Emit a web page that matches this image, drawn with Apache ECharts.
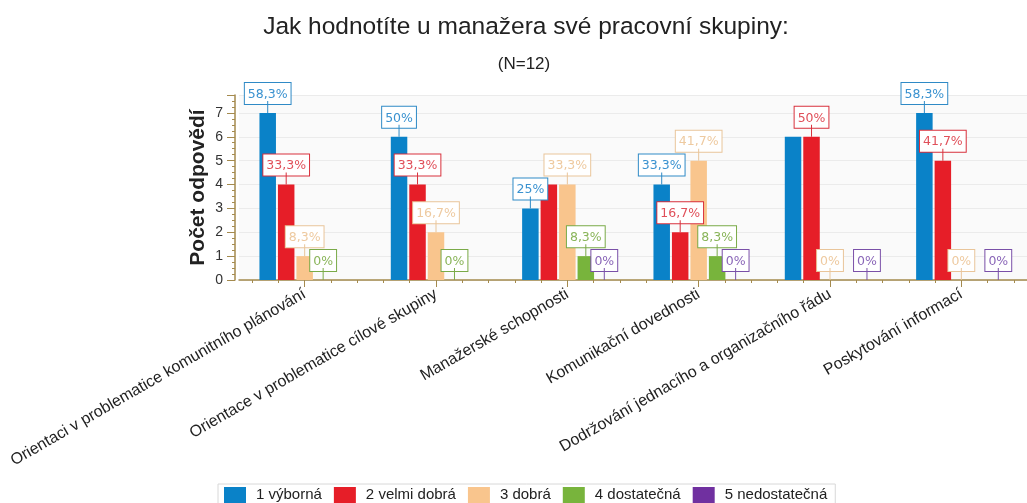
<!DOCTYPE html>
<html>
<head>
<meta charset="utf-8">
<script src="https://cdn.jsdelivr.net/npm/echarts@6/dist/echarts.min.js"></script>
<style>
  html, body { margin: 0; padding: 0; background: #fff; }
  #chart { width: 1027px; height: 503px; }
</style>
</head>
<body>
<div id="chart"></div>
<script>
const respondents = 12
const categories = [
  'Orientaci v problematice komunitního plánování',
  'Orientace v problematice cílové skupiny',
  'Manažerské schopnosti',
  'Komunikační dovednosti',
  'Dodržování jednacího a organizačního řádu',
  'Poskytování informací'
]
const seriesNames = ['1 výborná', '2 velmi dobrá', '3 dobrá', '4 dostatečná', '5 nedostatečná']
const vyborna = [7, 6, 3, 4, 6, 7]
const velmiDobra = [4, 4, 4, 2, 6, 5]
const dobra = [1, 2, 4, 5, 0, 0]
const dostatecna = [0, 0, 1, 1, 0, 0]
const nedostatecna = [0, 0, 0, 0, 0, 0]
const yTicks = [0, 1, 2, 3, 4, 5, 6, 7]
// labels the original chart leaves out: [series, category]
const hiddenLabels = [[4, 0], [4, 1], [1, 2], [0, 4], [3, 4], [3, 5]]

const values = [vyborna, velmiDobra, dobra, dostatecna, nedostatecna]
const barColors = ['#0a82c8', '#e61e28', '#f9c58d', '#78b43c', '#7030a0']
const boxColors = ['#2f8ac6', '#d8303c', '#e9c59a', '#7aaa48', '#7a50a8']
const textColors = ['#3a92d0', '#e0505a', '#eecaa0', '#8ab55a', '#8a66b8']
const axisColor = '#a48a4e'

const pct = v => {
  const p = Math.round(v / respondents * 1000) / 10
  return String(p).replace('.', ',') + '%'
}

const chart = echarts.init(document.getElementById('chart'))

const series = values.map((vals, s) => ({
  name: seriesNames[s],
  type: 'bar',
  xAxisIndex: 0,
  barWidth: 16.5,
  barGap: '12%',
  itemStyle: { color: barColors[s] },
  label: {
    show: true,
    position: 'top',
    distance: 0,
    formatter: p => '{box|' + pct(p.value) + '}\n{line| }',
    rich: {
      box: {
        fontFamily: 'DejaVu Sans',
        fontSize: 12.5,
        color: textColors[s],
        backgroundColor: '#fff',
        borderColor: boxColors[s],
        borderWidth: 1,
        padding: [5, 3, 3, 3],
        lineHeight: 15
      },
      line: { width: 1, height: 12, lineHeight: 12, fontSize: 1, backgroundColor: boxColors[s] }
    }
  },
  data: vals.map((v, c) => {
    const hide = hiddenLabels.some(h => h[0] === s && h[1] === c)
    return hide ? { value: v, label: { show: false } } : v
  }),
  z: 2
}))

chart.setOption({
  animation: false,
  textStyle: { fontFamily: 'Liberation Sans, Arial, sans-serif' },
  title: [
    {
      text: 'Jak hodnotíte u manažera své pracovní skupiny:',
      left: 521, top: 10, textAlign: 'center',
      textStyle: { fontSize: 24.5, fontWeight: 'normal', color: '#222' }
    },
    {
      text: '(N=12)',
      left: 519, top: 51, textAlign: 'center',
      textStyle: { fontSize: 17, fontWeight: 'normal', color: '#222' }
    }
  ],
  legend: {
    data: seriesNames,
    left: 218, top: 484,
    itemWidth: 22, itemHeight: 16, itemGap: 12,
    padding: [3, 8, 6, 6],
    borderColor: '#d8d8d8', borderWidth: 1,
    textStyle: { fontSize: 15, color: '#222', padding: [0, 0, 0, 5] },
    icon: 'rect'
  },
  grid: {
    left: 239, top: 95, width: 802, height: 185,
    show: true, backgroundColor: '#fafafa', borderWidth: 0
  },
  xAxis: [
    {
      type: 'category',
      data: categories,
      position: 'bottom',
      axisLine: { lineStyle: { color: axisColor, width: 1.5 } },
      axisTick: { show: true, alignWithLabel: true, interval: 0, length: 7, lineStyle: { color: axisColor } },
      axisLabel: { rotate: 30, margin: 13, fontSize: 16, color: '#222', interval: 0 }
    },
    {
      type: 'category',
      data: Array(categories.length * 5).fill(''),
      position: 'bottom',
      axisLine: { show: false },
      axisTick: { show: true, alignWithLabel: true, interval: 0, length: 3, lineStyle: { color: axisColor } },
      axisLabel: { show: false },
      splitLine: { show: false }
    }
  ],
  yAxis: {
    type: 'value',
    min: 0, max: 7.75, interval: 1,
    offset: 4,
    name: 'Počet odpovědí',
    nameLocation: 'middle',
    nameGap: 26,
    nameMoveOverlap: false,
    nameTextStyle: { fontSize: 21, fontWeight: 'bold', color: '#222' },
    axisLine: { show: true, lineStyle: { color: axisColor, width: 1.5 } },
    axisTick: { show: true, length: 8, lineStyle: { color: axisColor } },
    minorTick: { show: true, splitNumber: 4, length: 3, lineStyle: { color: axisColor } },
    axisLabel: {
      fontSize: 14, color: '#333', margin: 12,
      formatter: v => (yTicks.includes(v) ? String(v) : '')
    },
    splitLine: { lineStyle: { color: '#ebebeb' } }
  },
  series
})
</script>
</body>
</html>
